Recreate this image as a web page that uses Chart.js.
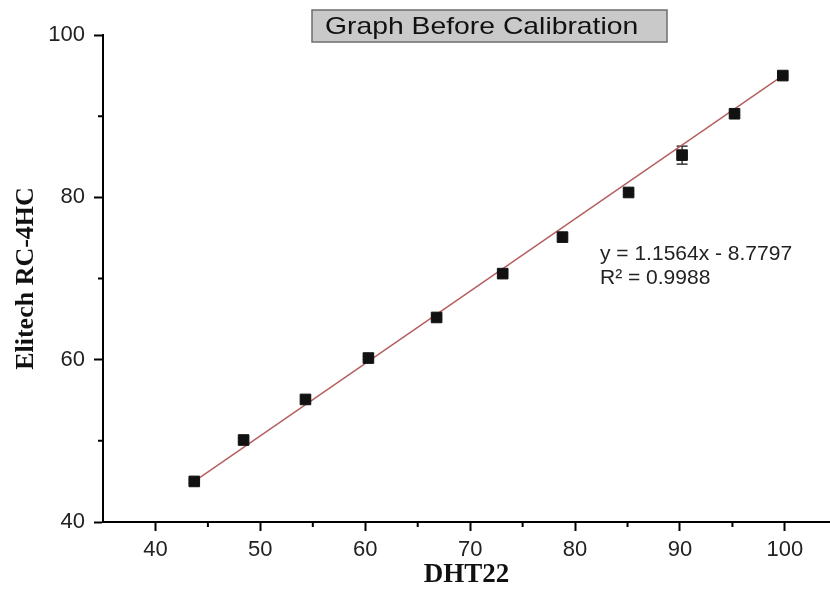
<!DOCTYPE html>
<html>
<head>
<meta charset="utf-8">
<script src="https://cdn.jsdelivr.net/npm/chart.js@4.4.0/dist/chart.umd.min.js"></script>
<style>
  html, body { margin: 0; padding: 0; background: #fff; }
</style>
</head>
<body>
<canvas id="myChart" width="830" height="598"></canvas>
<script>
///data
var dhtX = [43.7, 48.4, 54.3, 60.3, 66.8, 73.1, 78.8, 85.1, 90.2, 95.2, 99.8];
var elitechY = [45.0, 50.1, 55.1, 60.2, 65.2, 70.6, 75.1, 80.6, 85.2, 90.3, 95.0];
var yErr = [0.2, 0.2, 0.2, 0.2, 0.2, 0.2, 0.2, 0.2, 1.1, 0.2, 0.1];

//linear fit drawn as a straight line between its end points
var fitX = [43.7, 99.8];
var fitY = [45.0, 95.0];

var xTicks = [40, 50, 60, 70, 80, 90, 100];
var xMinor = [45, 55, 65, 75, 85, 95];
var yTicks = [40, 60, 80, 100];
var yMinor = [50, 70, 90];

var sans = "'Liberation Sans', Arial, sans-serif";
var serif = "'Liberation Serif', 'Times New Roman', serif";

///error bars under the markers
var errorBars = {
    id: 'errorBars',
    beforeDatasetsDraw: function(chart) {
        var ctx = chart.ctx;
        var xs = chart.scales.x, ys = chart.scales.y;
        ctx.save();
        ctx.strokeStyle = '#111';
        ctx.lineWidth = 1.2;
        for (var i in dhtX) {
            var px = xs.getPixelForValue(dhtX[i]);
            var top = ys.getPixelForValue(elitechY[i] + yErr[i]);
            var bot = ys.getPixelForValue(elitechY[i] - yErr[i]);
            ctx.beginPath();
            ctx.moveTo(px, top); ctx.lineTo(px, bot);
            ctx.moveTo(px - 5.5, top); ctx.lineTo(px + 5.5, top);
            ctx.moveTo(px - 5.5, bot); ctx.lineTo(px + 5.5, bot);
            ctx.stroke();
        }
        ctx.restore();
    }
};

///minor ticks, title box and fit text
var extras = {
    id: 'extras',
    afterDraw: function(chart) {
        var ctx = chart.ctx;
        var xs = chart.scales.x, ys = chart.scales.y;
        var area = chart.chartArea;
        ctx.save();
        ctx.strokeStyle = '#000';
        ctx.lineWidth = 2;
        ctx.beginPath();
        xMinor.forEach(function(v) {
            var px = xs.getPixelForValue(v);
            ctx.moveTo(px, area.bottom);
            ctx.lineTo(px, area.bottom + 5);
        });
        yMinor.forEach(function(v) {
            var py = ys.getPixelForValue(v);
            ctx.moveTo(area.left, py);
            ctx.lineTo(area.left - 5, py);
        });
        ctx.stroke();

        //title box
        ctx.fillStyle = '#c9c9c9';
        ctx.fillRect(312, 10, 355, 32);
        ctx.strokeStyle = '#6e6e6e';
        ctx.lineWidth = 1.5;
        ctx.strokeRect(312, 10, 355, 32);
        ctx.fillStyle = '#111';
        ctx.font = '24px ' + sans;
        ctx.textBaseline = 'middle';
        ctx.textAlign = 'left';
        ctx.translate(325, 27);
        ctx.scale(1.18, 1);
        ctx.fillText('Graph Before Calibration', 0, 0);
        ctx.setTransform(1, 0, 0, 1, 0, 0);

        //fit equation
        ctx.fillStyle = '#222';
        ctx.font = '21px ' + sans;
        ctx.fillText('y = 1.1564x - 8.7797', 600, 254);
        ctx.fillText('R\u00B2 = 0.9988', 600, 278);
        ctx.restore();
    }
};

var ctx = document.getElementById('myChart').getContext('2d');
var myChart = new Chart(ctx, {
    type: 'scatter',
    data: {
        datasets: [{
            label: 'Elitech RC-4HC',
            data: dhtX.map(function(x, i) { return {x: x, y: elitechY[i]}; }),
            pointStyle: 'rect',
            pointRadius: 7.5,
            backgroundColor: '#111',
            borderColor: '#111',
            borderWidth: 1,
            order: 1
        }, {
            label: 'Linear fit',
            data: fitX.map(function(x, i) { return {x: x, y: fitY[i]}; }),
            showLine: true,
            pointRadius: 0,
            borderColor: '#b5605e',
            borderWidth: 1.5,
            order: 2
        }]
    },
    options: {
        responsive: false,
        animation: false,
        layout: { autoPadding: false, padding: { top: 35, left: 0, right: 0, bottom: 0 } },
        plugins: {
            legend: { display: false },
            tooltip: { enabled: false }
        },
        scales: {
            x: {
                type: 'linear',
                min: 35,
                max: 104.3,
                afterBuildTicks: function(axis) {
                    axis.ticks = xTicks.map(function(v) { return {value: v}; });
                },
                afterFit: function(axis) { axis.height = 76; },
                grid: { drawOnChartArea: false, drawTicks: true, tickLength: 9, tickWidth: 2, tickColor: '#000' },
                border: { display: true, color: '#000', width: 2 },
                ticks: { color: '#222', font: { family: sans, size: 22 }, padding: 6, maxRotation: 0 },
                title: {
                    display: true,
                    text: 'DHT22',
                    color: '#111',
                    font: { family: serif, size: 27, weight: 'bold' },
                    padding: { top: 0, bottom: 7 }
                }
            },
            y: {
                type: 'linear',
                min: 40,
                max: 100,
                afterBuildTicks: function(axis) {
                    axis.ticks = yTicks.map(function(v) { return {value: v}; });
                },
                afterFit: function(axis) { axis.width = 103; },
                grid: { drawOnChartArea: false, drawTicks: true, tickLength: 9, tickWidth: 2, tickColor: '#000' },
                border: { display: true, color: '#000', width: 2 },
                ticks: { color: '#222', font: { family: sans, size: 22 }, padding: 9 },
                title: {
                    display: true,
                    text: 'Elitech RC-4HC',
                    color: '#111',
                    font: { family: serif, size: 26, weight: 'bold' },
                    padding: { top: 11, bottom: 0 }
                }
            }
        }
    },
    plugins: [errorBars, extras]
});
</script>
</body>
</html>
